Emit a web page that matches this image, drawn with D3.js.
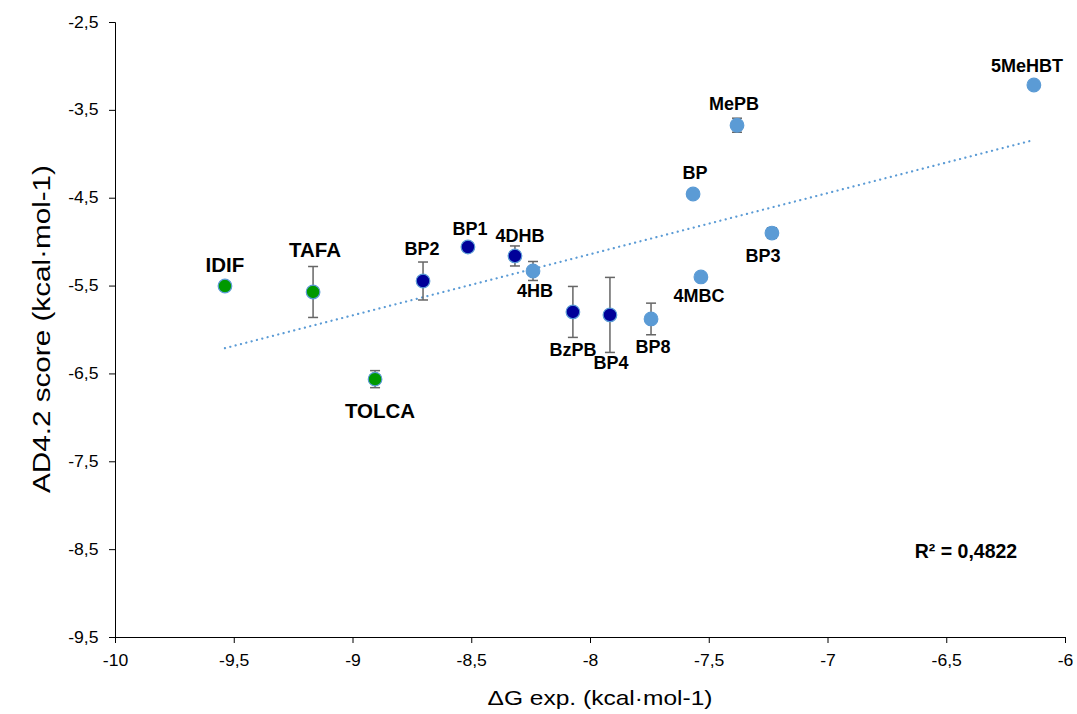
<!DOCTYPE html>
<html><head><meta charset="utf-8">
<script src="https://cdn.jsdelivr.net/npm/d3@7"></script>
<style>body{margin:0;background:#fff;}svg{font-family:"Liberation Sans",Arial,sans-serif;}</style>
</head><body><svg id="c" width="1077" height="714"></svg>
<script>
const names = ["IDIF","TAFA","TOLCA","BP2","BP1","4DHB","4HB","BzPB","BP4","BP8","4MBC","BP","BP3","MePB","5MeHBT"];
const dgExp = [-9.537,-9.166,-8.905,-8.703,-8.514,-8.316,-8.24,-8.072,-7.916,-7.743,-7.533,-7.566,-7.234,-7.381,-6.131];
const adScore = [-5.505,-5.573,-6.565,-5.448,-5.061,-5.163,-5.334,-5.80,-5.834,-5.880,-5.402,-4.458,-4.902,-3.675,-3.217];
const errY = [0,0.29,0.097,0.216,0,0.114,0.108,0.29,0.427,0.18,0,0,0.06,0.08,0];
const group = ["green","green","green","navy","navy","navy","light","navy","navy","light","light","light","light","light","light"];
const xTicks = [-10,-9.5,-9,-8.5,-8,-7.5,-7,-6.5,-6];
const yTicks = [-2.5,-3.5,-4.5,-5.5,-6.5,-7.5,-8.5,-9.5];
const r2Label = "R² = 0,4822";
const xTitle = "\u0394G exp. (kcal·mol-1)";
const yTitle = "AD4.2 score (kcal·mol-1)";

// layout: label offsets (px) and sizes
const labelOff = {IDIF:[0,-14],TAFA:[2,-35],TOLCA:[5,39],BP2:[-1,-26],BP1:[2,-12],"4DHB":[5,-14],"4HB":[2,26],BzPB:[0,44],BP4:[1,54],BP8:[2,34],"4MBC":[-2,25],BP:[2,-15],BP3:[-9,29],MePB:[-3,-15],"5MeHBT":[-7,-13]};
const labelSize = {green:20.5,navy:18,light:18};
const colors = {green:"#009900",navy:"#000099",light:"#5B9BD5"};

const svg = d3.select("#c");
const x = d3.scaleLinear().domain([-10,-6]).range([115,1065]);
const y = d3.scaleLinear().domain([-9.5,-2.5]).range([637,22]);
const fmt = v => String(v).replace(".",",");

const gx = svg.append("g").attr("transform","translate(0,637)")
  .call(d3.axisBottom(x).tickValues(xTicks).tickFormat(fmt).tickSizeOuter(0).tickSize(6).tickPadding(12));
const gy = svg.append("g").attr("transform","translate(115,0)")
  .call(d3.axisLeft(y).tickValues(yTicks).tickFormat(fmt).tickSizeOuter(0).tickSize(6).tickPadding(10));
[gx,gy].forEach(g=>{
  g.select(".domain").attr("stroke","#000").attr("stroke-width",1);
  g.selectAll(".tick line").attr("stroke","#000");
  g.selectAll(".tick text").attr("font-size",16).attr("fill","#000").attr("font-family","'Liberation Sans',Arial,sans-serif");
});
gx.selectAll(".tick text").attr("dy","0.71em").attr("transform","scale(1.1,1)");
gy.selectAll(".tick text").attr("x",-15).attr("transform","scale(1.1,1)");

// regression
const n = dgExp.length;
const mx = d3.mean(dgExp), my = d3.mean(adScore);
let sxy=0,sxx=0; for(let i=0;i<n;i++){sxy+=(dgExp[i]-mx)*(adScore[i]-my);sxx+=(dgExp[i]-mx)**2;}
const slope = sxy/sxx, icpt = my - slope*mx;
const x0 = d3.min(dgExp), x1 = d3.max(dgExp);
svg.append("line").attr("x1",x(x0)).attr("y1",y(icpt+slope*x0)).attr("x2",x(x1)).attr("y2",y(icpt+slope*x1))
  .attr("stroke","#5B9BD5").attr("stroke-width",2.2).attr("stroke-dasharray","0.1 5.4").attr("stroke-linecap","round");

const data = names.map((nm,i)=>({nm,x:dgExp[i],y:adScore[i],e:errY[i],g:group[i]}));
// error bars
const eb = svg.append("g").attr("stroke","#666").attr("stroke-width",1.5);
data.filter(d=>d.e>0).forEach(d=>{
  eb.append("line").attr("x1",x(d.x)).attr("x2",x(d.x)).attr("y1",y(d.y+d.e)).attr("y2",y(d.y-d.e));
  [d.y+d.e,d.y-d.e].forEach(v=>eb.append("line").attr("x1",x(d.x)-5).attr("x2",x(d.x)+5).attr("y1",y(v)).attr("y2",y(v)));
});
// points
svg.append("g").selectAll("circle").data(data).join("circle")
  .attr("cx",d=>x(d.x)).attr("cy",d=>y(d.y)).attr("r",6.8)
  .attr("fill",d=>colors[d.g]).attr("stroke","#5B9BD5").attr("stroke-width",1.2);
// labels
svg.append("g").selectAll("text").data(data).join("text")
  .attr("x",d=>x(d.x)+labelOff[d.nm][0]).attr("y",d=>y(d.y)+labelOff[d.nm][1])
  .attr("text-anchor","middle").attr("font-weight","bold").attr("font-size",d=>labelSize[d.g]).text(d=>d.nm);

svg.append("text").attr("x",966).attr("y",558).attr("text-anchor","middle").attr("font-weight","bold").attr("font-size",19.5).text(r2Label);
svg.append("text").attr("x",600).attr("y",705).attr("text-anchor","middle").attr("font-size",21)
  .attr("textLength",225).attr("lengthAdjust","spacingAndGlyphs").text(xTitle);
svg.append("text").attr("transform","translate(50,329) rotate(-90)").attr("text-anchor","middle").attr("font-size",23)
  .attr("textLength",328).attr("lengthAdjust","spacingAndGlyphs").text(yTitle);
</script></body></html>
